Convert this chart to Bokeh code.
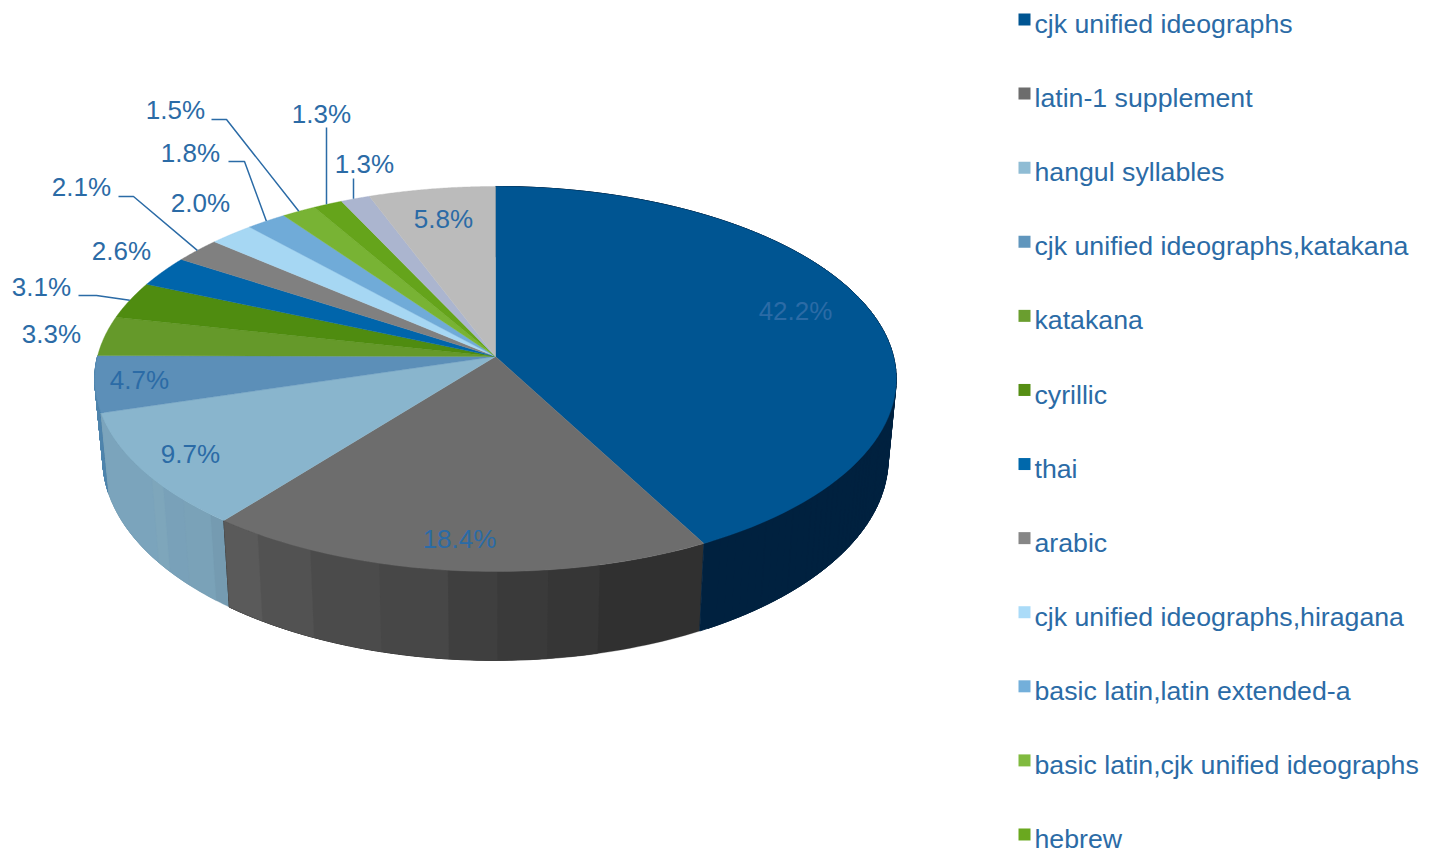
import numpy as np
from bokeh.core.properties import value
from bokeh.embed import file_html
from bokeh.models import ColumnDataSource, Range1d
from bokeh.plotting import figure
from bokeh.resources import INLINE

# ---- data
categories = ["cjk unified ideographs", "latin-1 supplement", "hangul syllables",
              "cjk unified ideographs,katakana", "katakana", "cyrillic", "thai", "arabic",
              "cjk unified ideographs,hiragana", "basic latin,latin extended-a",
              "basic latin,cjk unified ideographs", "hebrew"]
shares = [42.22, 18.42, 9.72, 4.72, 3.32, 3.12, 2.62, 2.12, 2.02, 1.82, 1.54, 1.32, 1.32, 5.76]

# ---- style
slice_colors = ["#005592", "#6d6d6d", "#89b5cd", "#5c8fb8", "#65992a", "#4f8c10", "#0065ab",
                "#808080", "#a6d7f3", "#70abd8", "#78b334", "#65a41b", "#abb5cf", "#bbbbbb"]
legend_colors = ["#005592", "#6d6d6d", "#8fbcd4", "#6096bd", "#6a9e2f", "#558e14", "#0068ab",
                 "#868686", "#aadbf8", "#73afda", "#80ba3f", "#6aa81f"]
text_color = "#2b6ba6"
font = value("Liberation Sans")

# wall shading: (fraction of slice where the band starts, colour)
wall_bands = {
    0: [(0, "#00213f")],
    1: [(0, "#303030"), (.22, "#363636"), (.321, "#3a3a3a"), (.419, "#3f3f3f"), (.514, "#474747"),
        (.649, "#4b4b4b"), (.793, "#525252"), (.914, "#5a5a5a")],
    2: [(0, "#759bb1"), (.07, "#7aa2b8"), (.224, "#79a1b9"), (.352, "#7ea6bb"), (.433, "#7ba4bc")],
    3: [(0, "#4f84ad")],
}

# label placement in page px (centres), and leader start points
label_pos = [(795, 310), (459, 538), (190, 453), (139, 379), (51, 333), (41, 286), (121, 250),
             (81, 186), (200, 202), (190, 152), (175, 109), (321, 113), (364, 163), (443, 218)]
leaders = {5: [(78, 295), (96, 295)], 7: [(118, 196), (133, 196)], 9: [(228, 161), (244, 161)],
           10: [(211, 119), (226, 119)], 11: [(326, 127)], 12: [(353, 178)]}

# ---- projection of the pie disc
CX, CY, R, S, K = 495.0, 356.0, 398.0, 189.9, 0.1169
BOT = dict(cy=434.6, r=390.0, s=199.0)


def top(t):
    w = 1 + K * np.cos(t)
    return CX + R * np.sin(t) / w, CY - S * np.cos(t) / w


def bottom(t):
    w = 1 + K * np.cos(t)
    return CX + BOT["r"] * np.sin(t) / w, BOT["cy"] - BOT["s"] * np.cos(t) / w


edges = np.concatenate([[0.0], np.cumsum(shares)]) / 100.0
edges[-1] = 1.0
angles = edges * 2 * np.pi

p = figure(width=1431, height=859, output_backend="svg", toolbar_location=None,
           x_range=Range1d(0, 1431), y_range=Range1d(859, 0), min_border=0,
           outline_line_color=None, background_fill_color="white", border_fill_color="white")
p.axis.visible = False
p.grid.visible = False

# walls: back slices first; each band runs to the slice end so no seams show between bands.
# The single-colour slices reach the disc's silhouette, so they are swept as overlapping quads.
for i in sorted(wall_bands, reverse=True):
    t0, t1 = angles[i], angles[i + 1]
    if len(wall_bands[i]) == 1:
        col = wall_bands[i][0][1]
        ts = np.linspace(t0, t1, 121)
        xt, yt = top(ts)
        xb, yb = bottom(ts)
        qx = [[xt[j], xt[j + 2], xb[j + 2], xb[j]] for j in range(len(ts) - 2)]
        qy = [[yt[j], yt[j + 2], yb[j + 2], yb[j]] for j in range(len(ts) - 2)]
        p.patches(qx, qy, fill_color=col, line_color=col, line_width=0.9)
    else:
        wx, wy, wc = [], [], []
        for f, col in wall_bands[i]:
            ts = np.linspace(t0 + f * (t1 - t0), t1, 60)
            xt, yt = top(ts)
            xb, yb = bottom(ts)
            wx.append(list(xt) + list(xb[::-1]))
            wy.append(list(yt) + list(yb[::-1]))
            wc.append(col)
        p.patches(wx, wy, fill_color=wc, line_color=wc, line_width=0.3)

# top faces
fx, fy = [], []
for i in range(len(shares)):
    ts = np.linspace(angles[i], angles[i + 1], 80)
    xt, yt = top(ts)
    fx.append([CX] + list(xt))
    fy.append([CY] + list(yt))
p.patches(fx, fy, fill_color=slice_colors, line_color=slice_colors, line_width=0.4)

# leaders
for i, pts in leaders.items():
    mx, my = top((angles[i] + angles[i + 1]) / 2)
    xs = [q[0] for q in pts] + [float(mx)]
    if len(pts) == 1:
        xs = [pts[0][0], pts[0][0]]
    ys = [q[1] for q in pts] + [float(my)]
    p.line(xs, ys, line_color=text_color, line_width=1.5)

# value labels
src = ColumnDataSource(dict(x=[q[0] for q in label_pos], y=[q[1] for q in label_pos],
                            t=[f"{v:.1f}%" for v in shares]))
p.text("x", "y", text="t", source=src, text_color=text_color, text_font=font,
       text_font_size="26px", text_align="center", text_baseline="middle")

# legend
rows = 19 + 74.09 * np.arange(len(categories))
p.rect(x=[1024] * len(categories), y=rows, width=12, height=12,
       fill_color=legend_colors, line_color=None)
p.text(x=[1034] * len(categories), y=rows + 4.6, text=categories, text_color=text_color,
       text_font=font, text_font_size="26.7px", text_align="left", text_baseline="middle")

open("out.html", "w").write(file_html(p, INLINE))
